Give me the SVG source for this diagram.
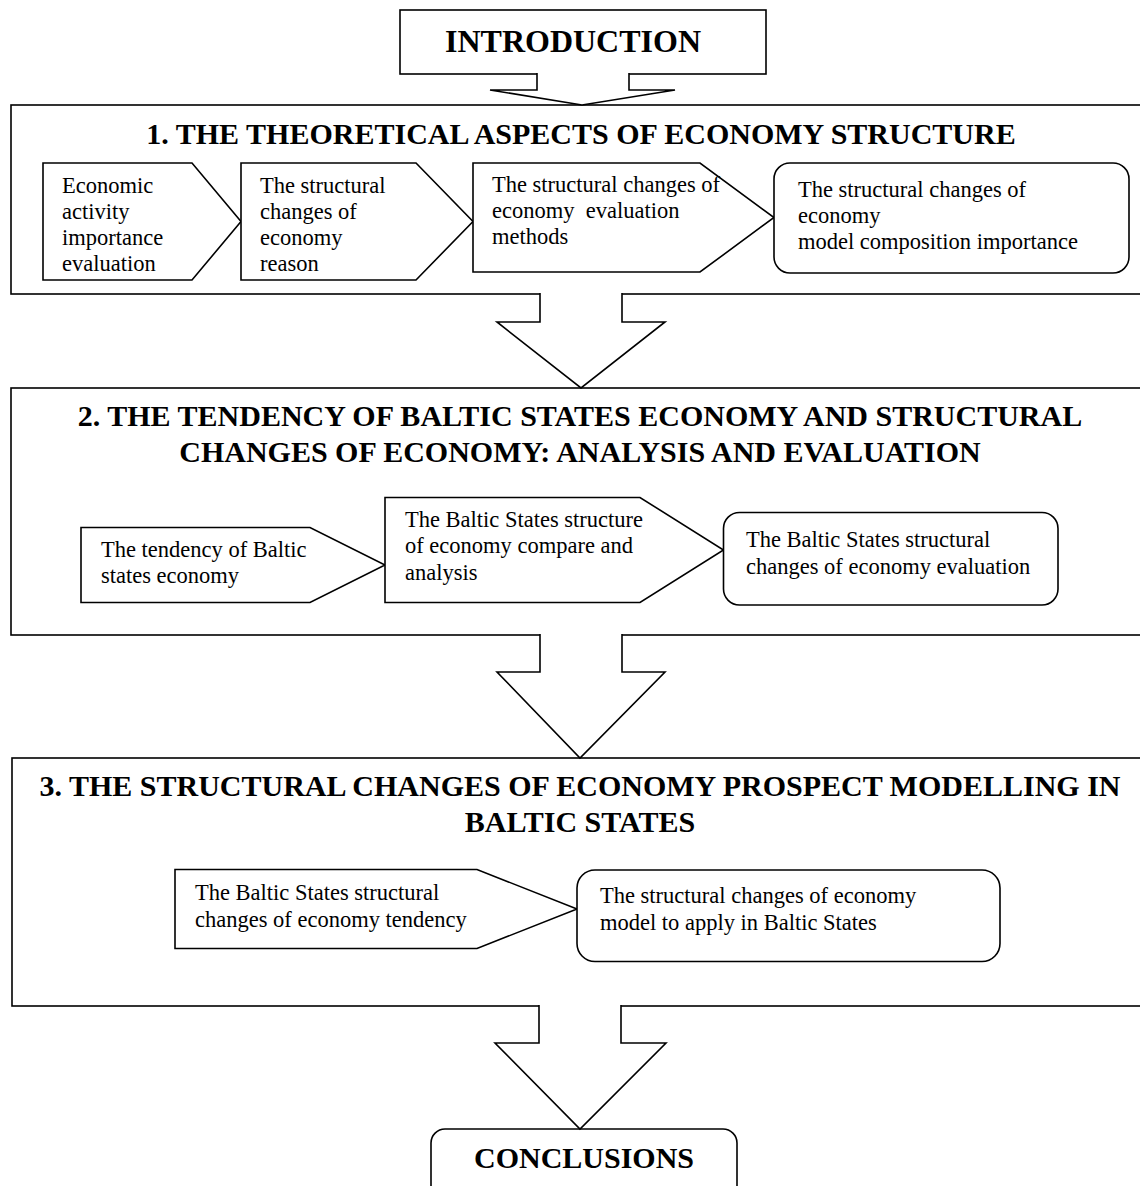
<svg xmlns="http://www.w3.org/2000/svg" width="1140" height="1186" viewBox="0 0 1140 1186">
<style>
  .bg { fill: #ffffff; }
  .box { fill: #ffffff; stroke: #000000; stroke-width: 1.6; stroke-linejoin: miter; }
  .arrow { fill: #ffffff; stroke: #000000; stroke-width: 1.6; stroke-linejoin: miter; }
  .title { font-family: "Liberation Serif", "Times New Roman", serif; font-weight: bold; font-size: 30px; fill: #000000; text-anchor: middle; }
  .big { font-family: "Liberation Serif", "Times New Roman", serif; font-weight: bold; font-size: 32px; fill: #000000; text-anchor: middle; }
  .body { font-family: "Liberation Serif", "Times New Roman", serif; font-size: 22.5px; fill: #000000; }
</style>
<rect class="bg" x="0" y="0" width="1140" height="1186"/>

<!-- Sections -->
<g id="section1">
  <rect class="box" x="11" y="105" width="1150" height="189"/>
  <text class="title" x="581" y="144">1. THE THEORETICAL ASPECTS OF ECONOMY STRUCTURE</text>
</g>
<g id="section2">
  <rect class="box" x="11" y="388" width="1150" height="247"/>
  <text class="title" x="580" y="426">2. THE TENDENCY OF BALTIC STATES ECONOMY AND STRUCTURAL</text>
  <text class="title" x="580" y="462">CHANGES OF ECONOMY: ANALYSIS AND EVALUATION</text>
</g>
<g id="section3">
  <rect class="box" x="12" y="758" width="1150" height="248"/>
  <text class="title" x="580" y="796">3. THE STRUCTURAL CHANGES OF ECONOMY PROSPECT MODELLING IN</text>
  <text class="title" x="580" y="832">BALTIC STATES</text>
</g>

<!-- Intro / conclusions -->
<g id="introduction">
  <rect class="box" x="400" y="10" width="366" height="64"/>
  <text class="big" x="573" y="52">INTRODUCTION</text>
</g>
<g id="conclusions">
  <rect class="box" x="431" y="1129" width="306" height="90" rx="14" ry="14"/>
  <text class="title" x="584" y="1168">CONCLUSIONS</text>
</g>

<!-- Connectors (block arrows) -->
<g id="connectors">
  <path class="arrow" d="M537,73 V90 H490 L582,105 L675,90 H629 V73"/>
  <path class="arrow" d="M540,293 V322 H497 L581,388 L665,322 H622 V293"/>
  <path class="arrow" d="M540,634 V672 H497 L580,758 L665,672 H622 V634"/>
  <path class="arrow" d="M539,1005 V1043 H495 L580,1129 L666,1043 H621 V1005"/>
</g>

<!-- Section 1 sub-boxes -->
<g id="s1-a">
  <path class="box" d="M43,163 H192 L241,221.5 L192,280 H43 Z"/>
  <text class="body" x="62" y="193">Economic</text>
  <text class="body" x="62" y="219">activity</text>
  <text class="body" x="62" y="245">importance</text>
  <text class="body" x="62" y="271">evaluation</text>
</g>
<g id="s1-b">
  <path class="box" d="M241,163 H416 L473,221.5 L416,280 H241 Z"/>
  <text class="body" x="260" y="193">The structural</text>
  <text class="body" x="260" y="219">changes of</text>
  <text class="body" x="260" y="245">economy</text>
  <text class="body" x="260" y="271">reason</text>
</g>
<g id="s1-c">
  <path class="box" d="M473,163 H700 L774,217.5 L700,272 H473 Z"/>
  <text class="body" x="492" y="192">The structural changes of</text>
  <text class="body" x="492" y="218" xml:space="preserve">economy  evaluation</text>
  <text class="body" x="492" y="244">methods</text>
</g>
<g id="s1-d">
  <rect class="box" x="774" y="163" width="355" height="110" rx="16" ry="16"/>
  <text class="body" x="798" y="197">The structural changes of</text>
  <text class="body" x="798" y="223">economy</text>
  <text class="body" x="798" y="249">model composition importance</text>
</g>

<!-- Section 2 sub-boxes -->
<g id="s2-a">
  <path class="box" d="M81,527.5 H310 L385,565 L310,602.5 H81 Z"/>
  <text class="body" x="101" y="557">The tendency of Baltic</text>
  <text class="body" x="101" y="583">states economy</text>
</g>
<g id="s2-b">
  <path class="box" d="M385,497.5 H640 L723.5,550 L640,602.5 H385 Z"/>
  <text class="body" x="405" y="527">The Baltic States structure</text>
  <text class="body" x="405" y="553">of economy compare and</text>
  <text class="body" x="405" y="580">analysis</text>
</g>
<g id="s2-c">
  <rect class="box" x="723.5" y="512.5" width="334.5" height="92.5" rx="16" ry="16"/>
  <text class="body" x="746" y="547">The Baltic States structural</text>
  <text class="body" x="746" y="574">changes of economy evaluation</text>
</g>

<!-- Section 3 sub-boxes -->
<g id="s3-a">
  <path class="box" d="M175,869.5 H477 L577,909 L477,948.5 H175 Z"/>
  <text class="body" x="195" y="900">The Baltic States structural</text>
  <text class="body" x="195" y="927">changes of economy tendency</text>
</g>
<g id="s3-b">
  <rect class="box" x="577" y="870" width="423" height="91.5" rx="18" ry="18"/>
  <text class="body" x="600" y="903">The structural changes of economy</text>
  <text class="body" x="600" y="930">model to apply in Baltic States</text>
</g>
</svg>
